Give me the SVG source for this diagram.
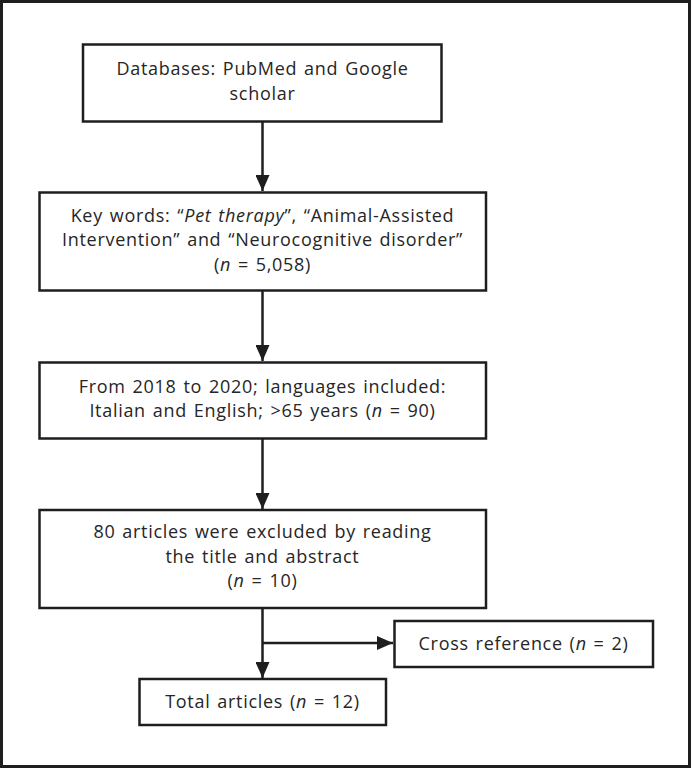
<svg xmlns="http://www.w3.org/2000/svg" width="692" height="769" viewBox="0 0 692 769">
<style>
.box{fill:#fff;stroke:#1e1e1e;stroke-width:2.5}
.frame{fill:#fff;stroke:#1e1e1e;stroke-width:3}
.t{font-family:"Open Sans","Noto Sans","Liberation Sans",sans-serif;font-size:18px;letter-spacing:0.7px;word-spacing:1.5px;fill:#262626;text-anchor:middle}
.i{font-style:italic}
.c{fill:none;stroke:#1e1e1e;stroke-width:2.5}
</style>
<defs>
<marker id="ah" markerUnits="userSpaceOnUse" markerWidth="18" markerHeight="14" refX="16" refY="7" orient="auto">
<path d="M0,0 L16,7 L0,14 Z" fill="#1e1e1e"/>
</marker>
</defs>
<rect class="frame" x="1.5" y="1.5" width="688" height="765"/>
<g id="connectors">
<line class="c" x1="262.5" y1="122" x2="262.5" y2="191" marker-end="url(#ah)"/>
<line class="c" x1="262.5" y1="291" x2="262.5" y2="361" marker-end="url(#ah)"/>
<line class="c" x1="262.5" y1="439" x2="262.5" y2="509" marker-end="url(#ah)"/>
<line class="c" x1="262.5" y1="608" x2="262.5" y2="678" marker-end="url(#ah)"/>
<line class="c" x1="262.5" y1="643" x2="393" y2="643" marker-end="url(#ah)"/>
</g>
<g id="n1">
<rect class="box" x="83" y="44.5" width="358.5" height="77"/>
<text class="t" x="262.5" y="75">Databases: PubMed and Google</text>
<text class="t" x="262.5" y="100">scholar</text>
</g>
<g id="n2">
<rect class="box" x="39.5" y="192.5" width="446.5" height="98"/>
<text class="t" x="262.5" y="221.5">Key words: “<tspan class="i">Pet therapy</tspan>”, “Animal-Assisted</text>
<text class="t" x="262.5" y="246">Intervention” and “Neurocognitive disorder”</text>
<text class="t" x="262.5" y="270.5">(<tspan class="i">n</tspan> = 5,058)</text>
</g>
<g id="n3">
<rect class="box" x="39.5" y="362.5" width="446.5" height="76"/>
<text class="t" x="262.5" y="392.5">From 2018 to 2020; languages included:</text>
<text class="t" x="262.5" y="417">Italian and English; &gt;65 years (<tspan class="i">n</tspan> = 90)</text>
</g>
<g id="n4">
<rect class="box" x="39.5" y="510" width="446.5" height="98"/>
<text class="t" x="262.5" y="538">80 articles were excluded by reading</text>
<text class="t" x="262.5" y="562.5">the title and abstract</text>
<text class="t" x="262.5" y="587">(<tspan class="i">n</tspan> = 10)</text>
</g>
<g id="n5">
<rect class="box" x="394.5" y="621" width="258.5" height="46"/>
<text class="t" x="523.5" y="650">Cross reference (<tspan class="i">n</tspan> = 2)</text>
</g>
<g id="n6">
<rect class="box" x="139.5" y="679" width="246.5" height="46"/>
<text class="t" x="262.5" y="708">Total articles (<tspan class="i">n</tspan> = 12)</text>
</g>
</svg>
